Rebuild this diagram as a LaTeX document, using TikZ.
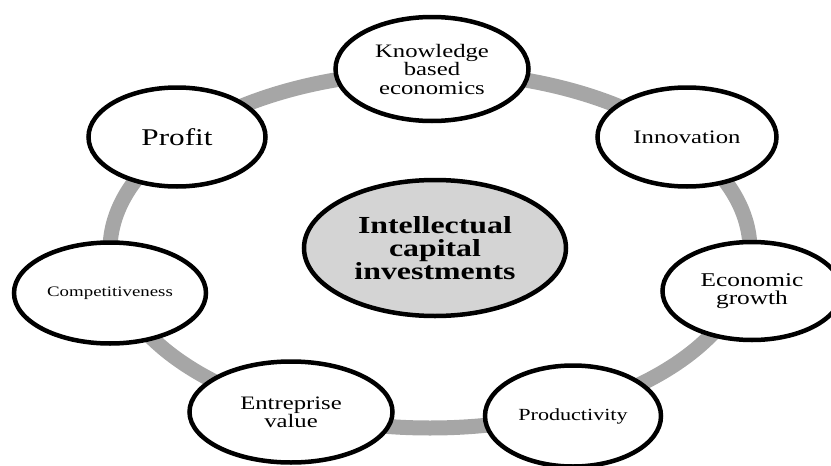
\documentclass[tikz,border=0pt]{standalone}
\usepackage{fontspec}
\setmainfont{Liberation Serif}[FakeStretch=1.3]
\usetikzlibrary{shapes.geometric}

\begin{document}
\begin{tikzpicture}
    [x=1pt, y=-1pt,
     ring/.style={draw=black!35, line width=15pt},
     bubble/.style={ellipse, draw=black, line width=4.5pt, fill=white, inner sep=0pt, align=center},
     hub/.style={bubble, fill=black!17, font=\bfseries\fontsize{24.5}{23}\selectfont}]
    \useasboundingbox (0,0) rectangle (831,466);
    % grey ring behind the bubbles
    \draw[ring] (430,250) ellipse [x radius=320, y radius=178];
    \node[hub, minimum width=262pt, minimum height=136pt] (ici) at (435,248)
        {Intellectual\\capital\\investments};
    \node[bubble, minimum width=193pt, minimum height=104pt, font=\fontsize{19}{18.5}\selectfont] (kbe) at (432,69)
        {Knowledge\\based\\economics};
    \node[bubble, minimum width=179pt, minimum height=99pt, font=\fontsize{19}{18}\selectfont] (innov) at (687,137) {Innovation};
    \node[bubble, minimum width=179pt, minimum height=98pt, font=\fontsize{19.5}{18.5}\selectfont] (growth) at (752,291)
        {Economic\\growth};
    \node[bubble, minimum width=176pt, minimum height=101pt, font=\fontsize{17}{16}\selectfont] (prod) at (573,416) {Productivity};
    \node[bubble, minimum width=203pt, minimum height=101pt, font=\fontsize{19}{17}\selectfont] (ent) at (291,412)
        {Entreprise\\value};
    \node[bubble, minimum width=192pt, minimum height=101pt, font=\fontsize{14.5}{14}\selectfont] (comp) at (110,293) {Competitiveness};
    \node[bubble, minimum width=177pt, minimum height=99pt, font=\fontsize{24}{22}\selectfont] (profit) at (177,137) {Profit};
\end{tikzpicture}
\end{document}
